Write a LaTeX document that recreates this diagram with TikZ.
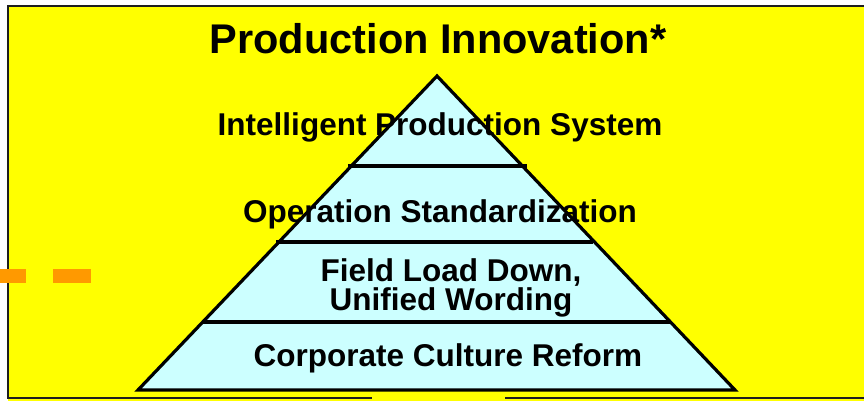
\documentclass[tikz,border=0pt]{standalone}
\usepackage{fontspec}
\setmainfont{Liberation Sans}
\definecolor{bgyellow}{RGB}{255,255,0}
\definecolor{pyrcyan}{RGB}{204,255,255}
\definecolor{dashorange}{RGB}{255,153,0}
\definecolor{framegray}{RGB}{30,30,30}
\begin{document}
\begin{tikzpicture}[x=1pt,y=-1pt,
  frameline/.style={line width=2.2pt,draw=framegray},
  pyrline/.style={line width=3.2pt,draw=black},
  layertext/.style={font=\bfseries\fontsize{31.5}{29}\selectfont,align=center,inner sep=0pt,anchor=base},
  titletext/.style={font=\bfseries\fontsize{41.5}{44}\selectfont,inner sep=0pt,anchor=base}]
\useasboundingbox (0,0) rectangle (864,400);
% background frame
\fill[bgyellow] (8,6) rectangle (880,420);
\draw[frameline] (880,6) -- (8,6) -- (8,398) -- (372,398);
\draw[frameline] (505,398) -- (880,398);
% pyramid
\coordinate (apex) at (437,76);
\coordinate (bl) at (138,390);
\coordinate (br) at (735,390);
\filldraw[pyrline,fill=pyrcyan] (apex) -- (br) -- (bl) -- cycle;
\draw[pyrline] (348,166) -- (527,166);
\draw[pyrline] (276,242) -- (593,242);
\draw[pyrline] (203,322) -- (670,322);
% texts
\node[titletext] (title) at (438,53) {Production Innovation*};
\node[layertext] (l1) at (440,135) {Intelligent Production System};
\node[layertext] (l2) at (440,222) {Operation Standardization};
\node[layertext] (l3a) at (451,281) {Field Load Down,};
\node[layertext] (l3b) at (451,310) {Unified Wording};
\node[layertext] (l4) at (448,366) {Corporate Culture Reform};
% orange dashes
\fill[dashorange] (0,269) rectangle (26,283);
\fill[dashorange] (53,269) rectangle (91,283);
\end{tikzpicture}
\end{document}
